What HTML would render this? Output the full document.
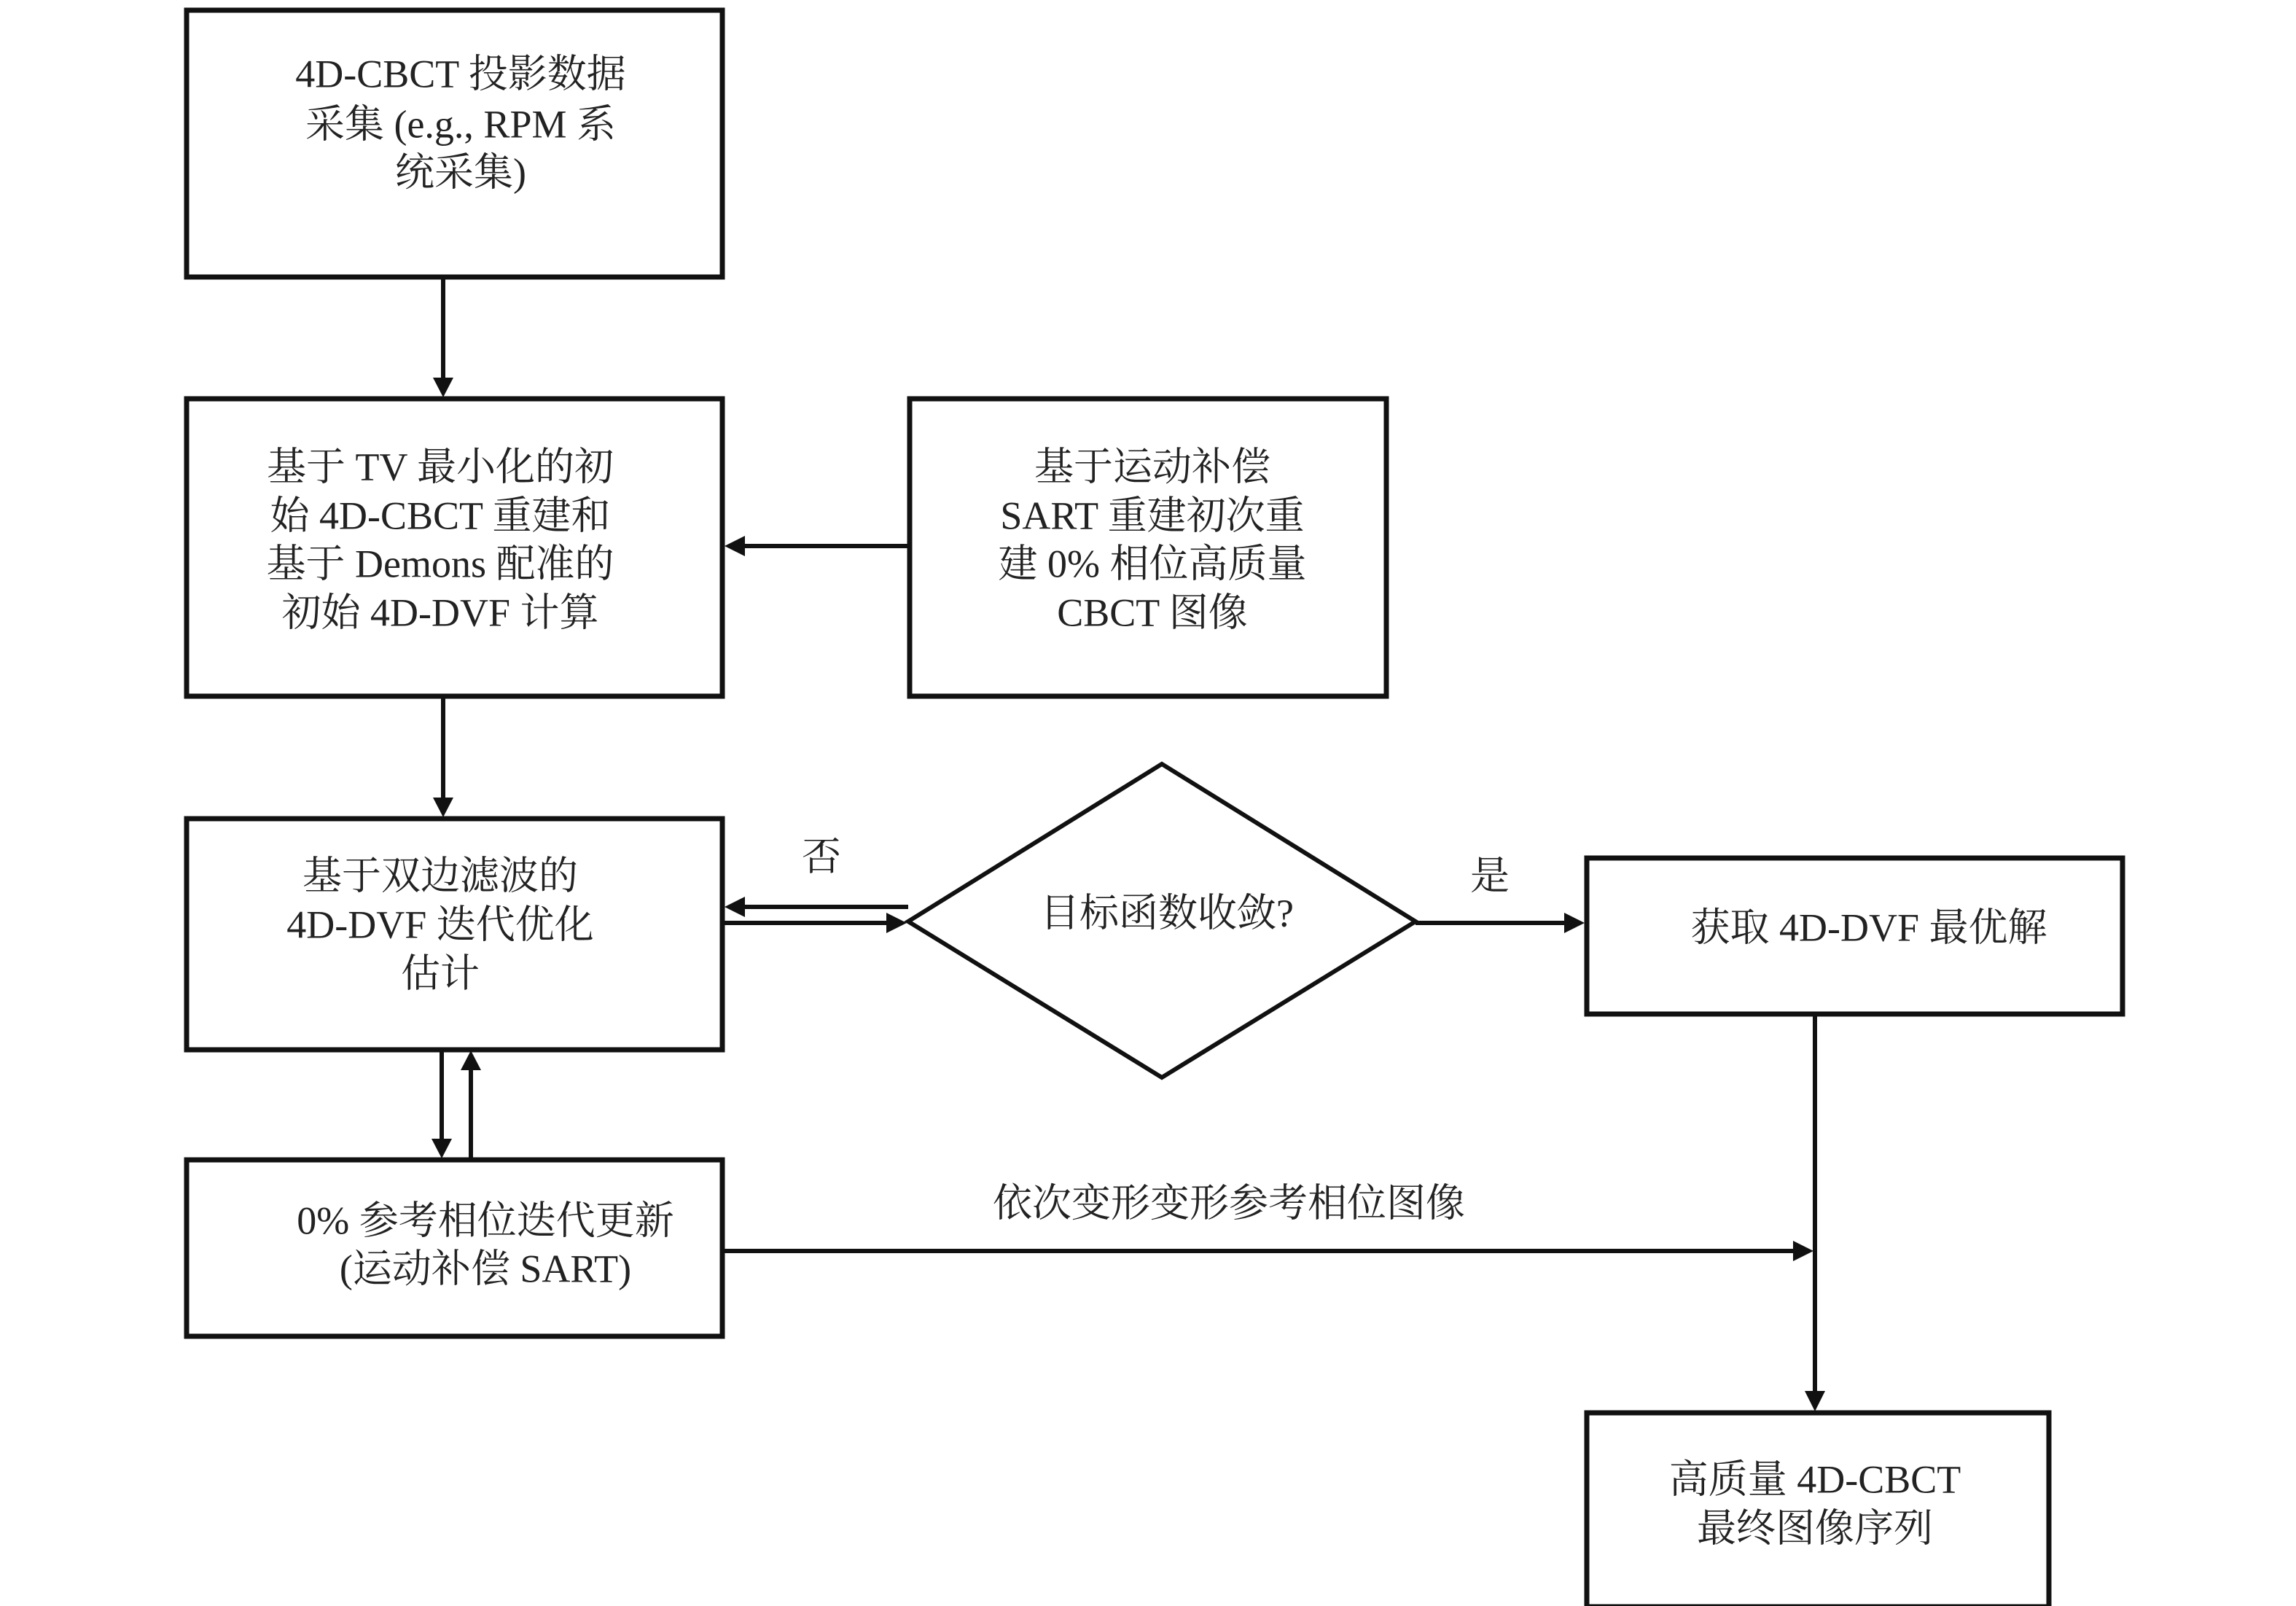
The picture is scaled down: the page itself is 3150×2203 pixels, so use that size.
<!DOCTYPE html>
<html><head><meta charset="utf-8"><style>
html,body{margin:0;padding:0;background:#fff;}
svg{display:block;}
text{font-family:"Liberation Serif","Noto Serif CJK SC",serif;font-size:54px;fill:#222;text-anchor:middle;dominant-baseline:middle;}
</style></head><body>
<svg width="3150" height="2203" viewBox="0 0 3150 2203" xmlns="http://www.w3.org/2000/svg">
<defs>
<marker id="a" markerWidth="8" markerHeight="8" refX="7" refY="4" orient="auto" markerUnits="userSpaceOnUse" viewBox="0 0 8 8">
</marker>
</defs>
<g fill="none" stroke="#111" stroke-width="7">
<rect x="256" y="14" width="735" height="366"/>
<rect x="256" y="547" width="735" height="408"/>
<rect x="1248" y="547" width="654" height="408"/>
<rect x="256" y="1123" width="735" height="317"/>
<rect x="256" y="1591" width="735" height="242"/>
<rect x="2177" y="1177" width="735" height="214"/>
<rect x="2177" y="1938" width="634" height="266"/>
<polygon points="1594,1048 1942,1264 1594,1478 1246,1264" stroke-width="6"/>
</g>
<g stroke="#111" stroke-width="6" fill="none">
<line x1="608" y1="380" x2="608" y2="520"/>
<line x1="1246" y1="749" x2="1020" y2="749"/>
<line x1="608" y1="955" x2="608" y2="1096"/>
<line x1="1246" y1="1244" x2="1020" y2="1244"/>
<line x1="991" y1="1266" x2="1218" y2="1266"/>
<line x1="1942" y1="1266" x2="2148" y2="1266"/>
<line x1="606" y1="1440" x2="606" y2="1564"/>
<line x1="646" y1="1589" x2="646" y2="1466"/>
<line x1="991" y1="1716" x2="2462" y2="1716"/>
<line x1="2490" y1="1391" x2="2490" y2="1910"/>
</g>
<g fill="#111">
<polygon points="594,518 622,518 608,545"/>
<polygon points="1022,735 1022,763 994,749"/>
<polygon points="594,1094 622,1094 608,1121"/>
<polygon points="1022,1230 1022,1258 994,1244"/>
<polygon points="1216,1252 1216,1280 1244,1266"/>
<polygon points="2146,1252 2146,1280 2174,1266"/>
<polygon points="592,1562 620,1562 606,1589"/>
<polygon points="632,1468 660,1468 646,1441"/>
<polygon points="2460,1702 2460,1730 2488,1716"/>
<polygon points="2476,1908 2504,1908 2490,1936"/>
</g>
<text x="632" y="107">4D-CBCT 投影数据</text>
<text x="632" y="176">采集 (e.g., RPM 系</text>
<text x="632" y="242">统采集)</text>
<text x="604" y="646">基于 TV 最小化的初</text>
<text x="604" y="713">始 4D-CBCT 重建和</text>
<text x="604" y="779">基于 Demons 配准的</text>
<text x="604" y="846">初始 4D-DVF 计算</text>
<text x="1581" y="646">基于运动补偿</text>
<text x="1581" y="713">SART 重建初次重</text>
<text x="1581" y="779">建 0% 相位高质量</text>
<text x="1581" y="846">CBCT 图像</text>
<text x="604" y="1207">基于双边滤波的</text>
<text x="604" y="1274">4D-DVF 迭代优化</text>
<text x="604" y="1341">估计</text>
<text x="666" y="1680">0% 参考相位迭代更新</text>
<text x="666" y="1746">(运动补偿 SART)</text>
<text x="1601" y="1258">目标函数收敛?</text>
<text x="1127" y="1181">否</text>
<text x="2044" y="1207">是</text>
<text x="2564" y="1278">获取 4D-DVF 最优解</text>
<text x="1686" y="1656">依次变形变形参考相位图像</text>
<text x="2490" y="2035">高质量 4D-CBCT</text>
<text x="2490" y="2102">最终图像序列</text>
</svg>
</body></html>
